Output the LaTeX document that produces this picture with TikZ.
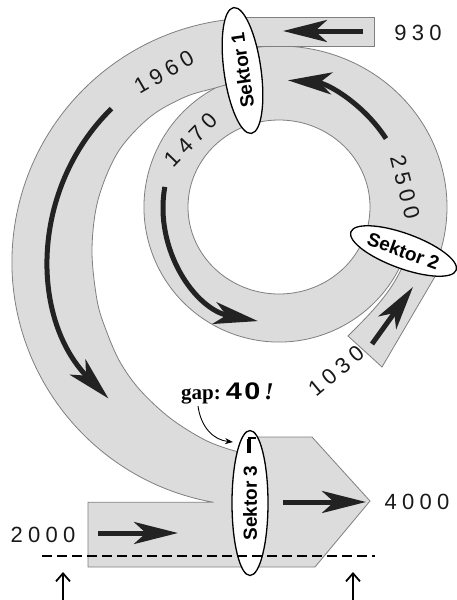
\documentclass[tikz,border=0pt]{standalone}
\usepackage{fontspec}
\setmainfont{Liberation Sans}
\usetikzlibrary{arrows.meta,shapes.geometric}
\newfontfamily\numfont[LetterSpace=24]{Liberation Sans}
\newfontfamily\gapser{Liberation Serif}
\newfontfamily\gapnum[FakeStretch=1.2,LetterSpace=10]{Liberation Sans}
\definecolor{bandfill}{HTML}{DCDCDC}
\definecolor{bandedge}{HTML}{7F7F7F}
\definecolor{arrowc}{HTML}{222222}
\begin{document}
\begin{tikzpicture}[x=1pt, y=-1pt,
  band/.style={fill=bandfill, draw=bandedge, line width=0.8pt},
  sektor/.style={ellipse, draw=black, fill=white, line width=1.3pt, inner sep=0pt,
    font=\bfseries\fontsize{19}{22}\selectfont},
  flow/.style={draw=arrowc, line width=5pt, -{Stealth[length=44pt,width=22pt,inset=12pt]}},
  num/.style={font=\numfont\fontsize{22}{26}\selectfont, inner sep=0pt, text=black!90},
]
\useasboundingbox (0,0) rectangle (456,600);

% inflow band 1030
\path[band] (348,336) -- (382,367) -- (440,268) -- (404,263)
  .. controls (392,292) and (372,312) .. (348,336) -- cycle;

% ring (1470 / 2500)
\path[band, even odd rule] (230.6,81) arc[start angle=-111, end angle=-336, radius=135]
  -- (437.8,259.4) arc[start angle=19, end angle=-100, x radius=168, y radius=161] -- cycle
  (279,207) ellipse [x radius=91, y radius=87];

% big band 1960 + 2000 box + 4000 outflow
\path[band] (88,567) -- (88,502.3) -- (213.6,502.3)
  arc[start angle=100, end angle=264, radius=244]
  -- (242,22) -- (242,80)
  -- plot[smooth, tension=0.55] coordinates {(229,84) (215,88) (185,97) (150,117) (118,152)
     (98,200) (92,250) (97,300) (106,330) (120,362) (140,390) (170,418) (205,440) (235,451) (252,453)}
  -- (252,437) -- (312,437) -- (370,501) -- (315,567) -- cycle;

% inflow box 930
\path[band] (238,17) rectangle (374,46);

% sectors
\node[sektor, minimum width=127pt, minimum height=37pt, rotate=98] (s1) at (242.5,70.5) {Sektor 1};
\node[sektor, minimum width=112pt, minimum height=35pt, rotate=-20] (s2) at (403.5,251) {Sektor 2};
\node[sektor, minimum width=145pt, minimum height=36pt, rotate=90] (s3) at (250,503) {Sektor 3};

% gap marker
\draw[line width=3.5pt] (249,453) -- (249,438.5);
\draw[line width=1.2pt] (247.5,438) -- (256,438);

% flow arrows
\draw[flow] (363,31) -- (283,31);
\draw[flow] (386,138.6) arc[start angle=-32.6, end angle=-86, radius=127];
\draw[flow] (111.5,108.6) arc[start angle=225.6, end angle=135.6, radius=205];
\draw[flow] (164.8,186.9) arc[start angle=190, end angle=100.5, radius=116];
\draw[flow] (372,344) -- (413,287);
\draw[flow] (98,533) -- (178,533);
\draw[flow] (283,502) -- (366,502);

% numbers
\node[num] (n930) at (418,33) {930};
\node[num, rotate=30] (n1960) at (164,72) {1960};
\node[num, rotate=46] (n1470) at (191,140) {1470};
\node[num, rotate=-76] (n2500) at (405,187) {2500};
\node[num, rotate=40] (n1030) at (336,371) {1030};
\node[num] (n2000) at (43,535) {2000};
\node[num] (n4000) at (417,502) {4000};

% gap label
\node[anchor=base west, inner sep=0pt] (gaplbl) at (181,399)
  {\gapser\bfseries\fontsize{21}{25}\selectfont gap:\hspace{5pt}{\gapnum\bfseries\fontsize{24}{28}\selectfont 40}{\gapser\bfseries\itshape\fontsize{24}{28}\selectfont\,!}};
\coordinate (gapfrom) at (198,406);
\coordinate (gapto) at (233,442);
\draw[line width=0.9pt, -{Stealth[length=8pt,width=6pt]}] (gapfrom) .. controls (201,428) and (214,440) .. (gapto);

% reference line and markers
\coordinate (dl) at (42,556);
\coordinate (dr) at (375,556);
\draw[line width=1.4pt, dash pattern=on 10pt off 5pt] (dl) -- (dr);
\coordinate (ua) at (63,600);
\coordinate (uat) at (63,572);
\coordinate (ub) at (353,600);
\coordinate (ubt) at (353,572);
\draw[line width=1.8pt, -{Straight Barb[length=8pt,width=14pt]}] (ua) -- (uat);
\draw[line width=1.8pt, -{Straight Barb[length=8pt,width=14pt]}] (ub) -- (ubt);
\end{tikzpicture}
\end{document}
